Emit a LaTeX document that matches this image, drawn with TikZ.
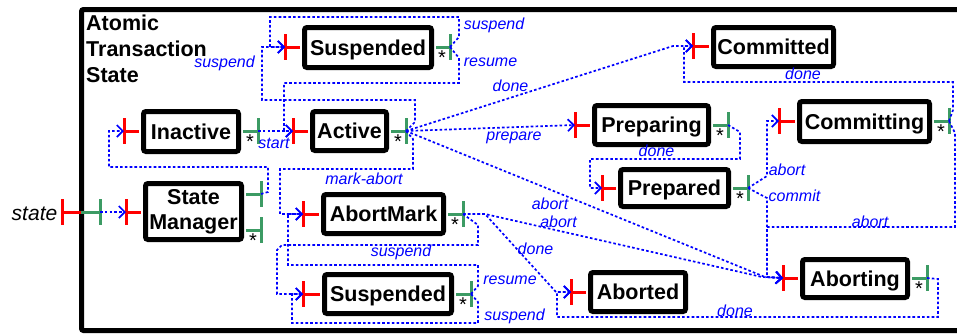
\documentclass[tikz,border=0pt]{standalone}
\usepackage{fontspec}
\setmainfont{Liberation Sans}
\usetikzlibrary{arrows.meta}
\definecolor{pgreen}{RGB}{60,155,100}
\definecolor{pred}{RGB}{255,0,0}
\definecolor{pblue}{RGB}{0,0,255}
\tikzset{
 stbox/.style={draw=black, line width=5pt, rounded corners=2.5pt, fill=white, inner sep=0pt, font=\bfseries\fontsize{21.5}{25}\selectfont},
 oneline/.style={text height=15.5pt, text depth=0pt},
 redbar/.style={draw=pred, line width=3pt},
 grnbar/.style={draw=pgreen, line width=3pt},
 conn/.style={draw=pblue, line width=1.7pt, dash pattern=on 2.6pt off 2.2pt},
 arr/.style={conn, -{Straight Barb[length=6pt,width=12pt,line width=1.7pt]}},
 lab/.style={text=pblue, font=\itshape\fontsize{16}{16}\selectfont, inner sep=0pt, anchor=base},
 star/.style={font=\fontsize{20}{20}\selectfont, inner sep=0pt, anchor=base},
}
\newcommand\inp[2]{%
  \draw[redbar] (#1) -- ([xshift=-2pt]#2.west |- #1);
  \draw[redbar] ([yshift=13pt]#1) -- ([yshift=-13pt]#1);}
\newcommand\outp[3]{%
  \draw[grnbar] ([xshift=2pt]#2.east |- #1) -- (#1);
  \draw[grnbar] ([yshift=13pt]#1) -- ([yshift=-13pt]#1);
  \node[star] (#3) at ([xshift=-8pt,yshift=-17pt]#1) {*};}
\begin{document}
\begin{tikzpicture}[x=1pt,y=-1pt]
\useasboundingbox (0,0) rectangle (957,333);
% frame
\draw[line width=5pt, rounded corners=2pt] (1000,9.5) -- (81.5,9.5) -- (81.5,330.5) -- (1000,330.5);
\node[font=\bfseries\fontsize{21.5}{26}\selectfont, align=left, inner sep=0pt, anchor=north west] (title) at (86,14.5) {Atomic\\Transaction\\State};

% state boxes
\node[stbox, oneline, minimum width=95pt, minimum height=40pt] (inactive) at (191,131.5) {Inactive};
\node[stbox, oneline, minimum width=74pt, minimum height=39pt] (active) at (349.5,131) {Active};
\node[stbox, oneline, minimum width=127pt, minimum height=40pt] (susp1) at (368,47.5) {Suspended};
\node[stbox, oneline, minimum width=120pt, minimum height=39pt] (committed) at (773.5,47) {Committed};
\node[stbox, align=center, minimum width=96pt, minimum height=56pt] (sm) at (193.5,211.5) {State\\Manager};
\node[stbox, oneline, minimum width=120pt, minimum height=39pt] (abortmark) at (383.5,214) {AbortMark};
\node[stbox, oneline, minimum width=127pt, minimum height=39pt] (susp2) at (388,294) {Suspended};
\node[stbox, oneline, minimum width=95pt, minimum height=39pt] (aborted) at (638,292) {Aborted};
\node[stbox, oneline, minimum width=105pt, minimum height=38pt] (aborting) at (855,278.5) {Aborting};
\node[stbox, oneline, minimum width=108pt, minimum height=37pt] (prepared) at (674.5,188) {Prepared};
\node[stbox, oneline, minimum width=114pt, minimum height=39pt] (preparing) at (651.5,125) {Preparing};
\node[stbox, oneline, minimum width=130pt, minimum height=40pt] (committing) at (864.5,121.5) {Committing};

% port coordinates
\coordinate (inactive-in) at (124,131);  \coordinate (inactive-out) at (258,131);
\coordinate (active-in) at (293,131);    \coordinate (active-out) at (406,131);
\coordinate (susp1-in) at (285,47);      \coordinate (susp1-out) at (450,47);
\coordinate (committed-in) at (693,46);
\coordinate (sm-in) at (126,212); \coordinate (sm-out1) at (261,194); \coordinate (sm-out2) at (261,230);
\coordinate (abortmark-in) at (303,214); \coordinate (abortmark-out) at (463,214);
\coordinate (susp2-in) at (303,294);     \coordinate (susp2-out) at (471,294);
\coordinate (aborted-in) at (571,292);
\coordinate (aborting-in) at (783,278);  \coordinate (aborting-out) at (927,278);
\coordinate (prepared-in) at (602,188);  \coordinate (prepared-out) at (748,188);
\coordinate (preparing-in) at (575,125); \coordinate (preparing-out) at (728,125);
\coordinate (committing-in) at (779,121);\coordinate (committing-out) at (949,121);
\coordinate (ext-in) at (62,212); \coordinate (ext-out) at (100,212);

% ports
\inp{inactive-in}{inactive} \outp{inactive-out}{inactive}{s1}
\inp{active-in}{active} \outp{active-out}{active}{s2}
\inp{susp1-in}{susp1} \outp{susp1-out}{susp1}{s3}
\inp{committed-in}{committed}
\inp{sm-in}{sm}
\draw[grnbar] ([xshift=2pt]sm.east |- sm-out1) -- (sm-out1);
\draw[grnbar] ([yshift=13pt]sm-out1) -- ([yshift=-13pt]sm-out1);
\outp{sm-out2}{sm}{s4}
\inp{abortmark-in}{abortmark} \outp{abortmark-out}{abortmark}{s5}
\inp{susp2-in}{susp2} \outp{susp2-out}{susp2}{s6}
\inp{aborted-in}{aborted}
\inp{aborting-in}{aborting} \outp{aborting-out}{aborting}{s7}
\inp{prepared-in}{prepared} \outp{prepared-out}{prepared}{s8}
\inp{preparing-in}{preparing} \outp{preparing-out}{preparing}{s9}
\inp{committing-in}{committing} \outp{committing-out}{committing}{s10}
% external port
\draw[redbar] (ext-in) -- (81,212);
\draw[redbar] ([yshift=13pt]ext-in) -- ([yshift=-13pt]ext-in);
\draw[grnbar] (81,212) -- (ext-out);
\draw[grnbar] ([yshift=13pt]ext-out) -- ([yshift=-13pt]ext-out);
\node[font=\itshape\fontsize{21}{21}\selectfont, inner sep=0pt, anchor=base] (statelab) at (34.5,220) {state};

% connectors
\draw[arr] (ext-out) -- (sm-in);
\draw[arr] (sm-out1) -- (268,192) -- (268,167) -- (109,167) -- (109,131) -- (inactive-in);
\draw[arr] (inactive-out) -- (active-in);
\draw[arr] (active-out) -- (415,122) -- (415,100) -- (262,100) -- (262,47) -- (susp1-in);
\draw[arr] (susp1-out) -- (459,37) -- (459,17) -- (270,17) -- (270,47) -- (susp1-in);
\draw[arr] (susp1-out) -- (459,58) -- (459,83) -- (284,83) -- (284,131) -- (active-in);
\draw[arr] (active-out) -- (413,139) -- (413,169) -- (280,169) -- (280,214) -- (abortmark-in);
\draw[arr] (active-out) -- (673,46) -- (committed-in);
\draw[arr] (active-out) -- (preparing-in);
\draw[arr] (active-out) -- (765,277) -- (aborting-in);
\draw[arr] (abortmark-out) -- (485,214) -- (762,277) -- (aborting-in);
\draw[arr] (abortmark-out) -- (485,214) -- (556,292) -- (aborted-in);
\draw[arr] (abortmark-out) -- (478,225) -- (478,245) -- (282,245) -- (277,250) -- (277,294) -- (susp2-in);
\draw[arr] (susp2-out) -- (478,286) -- (478,265) -- (288,265) -- (288,214) -- (abortmark-in);
\draw[arr] (susp2-out) -- (478,302) -- (478,323) -- (292,323) -- (292,294) -- (susp2-in);
\draw[arr] (preparing-out) -- (740,132) -- (740,159) -- (590,159) -- (590,188) -- (prepared-in);
\draw[arr] (prepared-out) -- (767,176) -- (767,121) -- (committing-in);
\draw[arr] (prepared-out) -- (767,198) -- (767,277) -- (aborting-in);
\draw[arr] (committing-out) -- (955,133) -- (955,227) -- (767,227) -- (767,277) -- (aborting-in);
\draw[arr] (committing-out) -- (953,110) -- (953,82) -- (684,82) -- (684,46) -- (committed-in);
\draw[arr] (aborting-out) -- (938,279) -- (938,317) -- (557,317) -- (557,292) -- (aborted-in);

% labels
\node[lab] (l1) at (224.5,67) {suspend};
\node[lab] (l2) at (274,148) {start};
\node[lab] (l3) at (494,29) {suspend};
\node[lab] (l4) at (490.5,66.5) {resume};
\node[lab] (l5) at (510.5,91.5) {done};
\node[lab] (l6) at (514,140) {prepare};
\node[lab] (l7) at (364,184) {mark-abort};
\node[lab] (l8) at (401,256) {suspend};
\node[lab] (l9) at (510,284) {resume};
\node[lab] (l10) at (514.5,320.5) {suspend};
\node[lab] (l11) at (535.5,254) {done};
\node[lab] (l12) at (550,209) {abort};
\node[lab] (l13) at (558.5,227.5) {abort};
\node[lab] (l14) at (656.5,156) {done};
\node[lab] (l15) at (787,175) {abort};
\node[lab] (l16) at (794.5,201.5) {commit};
\node[lab] (l17) at (870,227) {abort};
\node[lab] (l18) at (803,79) {done};
\node[lab] (l19) at (735,316.5) {done};
\end{tikzpicture}
\end{document}
